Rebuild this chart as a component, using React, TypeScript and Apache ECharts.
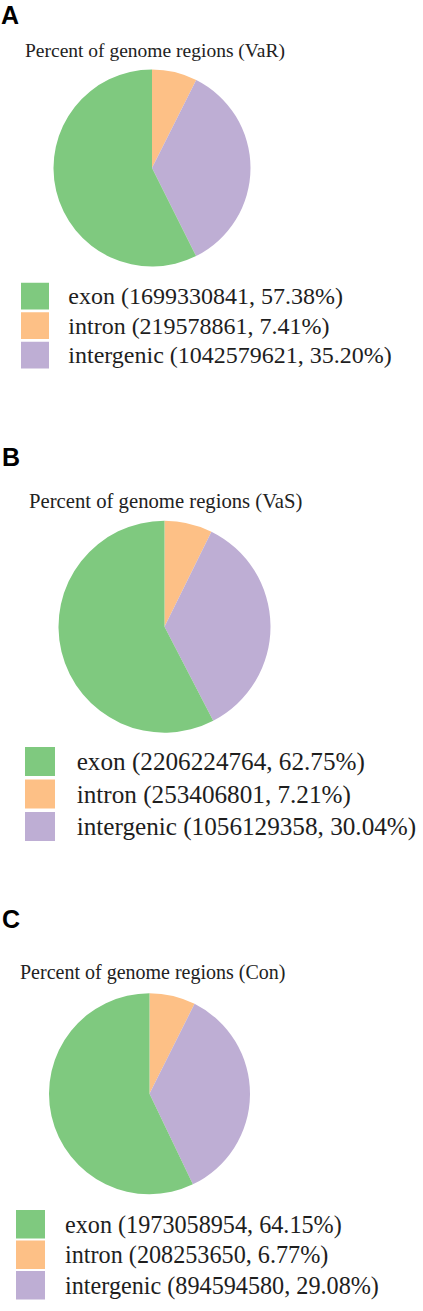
import React, { useEffect, useRef } from "react";
import * as echarts from "echarts";

// ---- data ----
const panelLetters = ["A", "B", "C"];
const panelTitles = [
  "Percent of genome regions (VaR)",
  "Percent of genome regions (VaS)",
  "Percent of genome regions (Con)",
];
const regionNames = ["exon", "intron", "intergenic"];
const regionColors = ["#7fc97f", "#fdc086", "#beaed4"];

// legend texts (counts and percentages as printed)
const countsVaR = ["1699330841", "219578861", "1042579621"];
const percentsVaR = ["57.38", "7.41", "35.20"];
const countsVaS = ["2206224764", "253406801", "1056129358"];
const percentsVaS = ["62.75", "7.21", "30.04"];
const countsCon = ["1973058954", "208253650", "894594580"];
const percentsCon = ["64.15", "6.77", "29.08"];

// slice shares as drawn in the picture (exon, intron, intergenic)
const slicesVaR = [57.38, 7.41, 35.2];
const slicesVaS = [57.6, 7.3, 35.1];
const slicesCon = [57.1, 7.4, 35.5];

const panelCounts = [countsVaR, countsVaS, countsCon];
const panelPercents = [percentsVaR, percentsVaS, percentsCon];
const panelSlices = [slicesVaR, slicesVaS, slicesCon];

// ---- layout ----
const SERIF = "Liberation Serif";
const layouts = [
  {
    letterX: 1, letterY: 16.3,
    titleX: 25, titleY: 40.7, titleSize: 19.5,
    cx: 152, cy: 168, r: 98.5,
    legX: 21, legY: 282.7, iw: 28, ih: 26.7, gap: 2.8, legSize: 24, textPad: 14.3,
  },
  {
    letterX: 2, letterY: 458.3,
    titleX: 29, titleY: 491, titleSize: 20.7,
    cx: 164.5, cy: 626.7, r: 106,
    legX: 25, legY: 747, iw: 30, ih: 29, gap: 3.5, legSize: 25.2, textPad: 16.7,
  },
  {
    letterX: 2, letterY: 920.8,
    titleX: 20, titleY: 961.7, titleSize: 20,
    cx: 149.5, cy: 1093.7, r: 100.5,
    legX: 16, legY: 1210, iw: 29, ih: 28.5, gap: 2, legSize: 24.2, textPad: 15,
  },
];

const W = 423;
const H = 1311;

export default function App() {
  const ref = useRef<HTMLDivElement>(null);

  useEffect(() => {
    document.body.style.margin = "0";
    if (!ref.current) return;
    const chart = echarts.init(ref.current, undefined, { renderer: "svg" });

    const titles: any[] = [];
    const legends: any[] = [];
    const series: any[] = [];
    const graphics: any[] = [];

    layouts.forEach((L, p) => {
      const labels = regionNames.map(
        (n, i) => `${n} (${panelCounts[p][i]}, ${panelPercents[p][i]}%)`
      );
      const fullW = L.iw + L.textPad;
      // square followed by an invisible zero-area line, widening the icon box
      const icon = `path://M0,0L${L.iw},0L${L.iw},${L.ih}L0,${L.ih}Z M${fullW},0L${fullW},${L.ih}`;
      graphics.push({
        type: "text",
        left: L.letterX,
        top: L.letterY - 14,
        style: {
          text: panelLetters[p],
          font: "bold 25px 'Liberation Sans', Arial, sans-serif",
          fill: "#000",
        },
      });
      titles.push({
        text: panelTitles[p],
        left: L.titleX,
        top: L.titleY,
        padding: 0,
        textStyle: {
          fontFamily: SERIF,
          fontWeight: "normal",
          fontSize: L.titleSize,
          lineHeight: L.titleSize,
          color: "#222",
        },
      });
      legends.push({
        orient: "vertical",
        left: L.legX,
        top: L.legY,
        padding: 0,
        itemWidth: fullW,
        itemHeight: L.ih,
        itemGap: L.gap,
        icon,
        selectedMode: false,
        data: labels,
        textStyle: {
          fontFamily: SERIF,
          fontSize: L.legSize,
          color: "#1e1e1e",
        },
      });
      // clockwise from top: intron, intergenic, exon
      const order = [1, 2, 0];
      series.push({
        type: "pie",
        center: [L.cx, L.cy],
        radius: [0, L.r],
        startAngle: 90,
        clockwise: true,
        avoidLabelOverlap: false,
        label: { show: false },
        labelLine: { show: false },
        emphasis: { disabled: true },
        silent: true,
        itemStyle: { borderWidth: 0 },
        data: order.map((i) => ({
          name: labels[i],
          value: panelSlices[p][i],
          itemStyle: { color: regionColors[i] },
        })),
      });
    });

    chart.setOption({
      animation: false,
      backgroundColor: "#ffffff",
      title: titles,
      legend: legends,
      series,
      graphic: graphics,
    });

    return () => chart.dispose();
  }, []);

  return <div ref={ref} style={{ width: W, height: H }} />;
}
